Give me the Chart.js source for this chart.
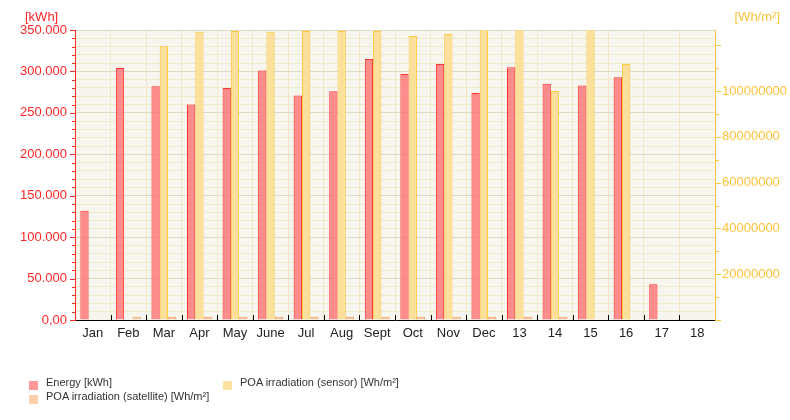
<!DOCTYPE html>
<html>
<head>
<meta charset="utf-8">
<script src="https://cdn.jsdelivr.net/npm/chart.js@4.4.1/dist/chart.umd.min.js"></script>
<style>
body { margin: 0; background: #fff; }
#wrap { position: relative; width: 790px; height: 420px; }
.lg { position: absolute; font: 11px "Liberation Sans", Arial, sans-serif; color: #333; line-height: 13px; white-space: nowrap; }
.box { position: absolute; width: 9px; height: 9px; }
</style>
</head>
<body>
<div id="wrap">
  <canvas id="myChart" width="790" height="420"></canvas>
  <div class="box" style="left:29px;top:381px;background:#ff9898"></div>
  <div class="lg" style="left:46px;top:376px">Energy [kWh]</div>
  <div class="box" style="left:223px;top:381px;background:#fde3a0"></div>
  <div class="lg" style="left:240px;top:376px">POA irradiation (sensor) [Wh/m²]</div>
  <div class="box" style="left:29px;top:395px;background:#fdcfaa"></div>
  <div class="lg" style="left:46px;top:390px">POA irradiation (satellite) [Wh/m²]</div>
</div>
<script>
var categories = ['Jan', 'Feb', 'Mar', 'Apr', 'May', 'June', 'Jul', 'Aug', 'Sept', 'Oct', 'Nov', 'Dec', '13', '14', '15', '16', '17', '18'];
var energy = [132000, 304000, 282000, 260000, 280000, 301000, 271000, 276000, 315000, 297000, 309000, 274000, 305000, 285000, 283000, 293000, 43000, null];
var sensor = [null, null, 119800000, 125900000, 126300000, 125900000, 126300000, 126300000, 126300000, 124100000, 125000000, 135000000, 135000000, 100100000, 135000000, 111900000, null, null];
var satellite = [null, 1400000, 1400000, 1400000, 1400000, 1400000, 1400000, 1400000, 1400000, 1400000, 1400000, 1400000, 1400000, 1400000, null, null, null, null];
var leftTicks = [0, 50000, 100000, 150000, 200000, 250000, 300000, 350000];
var rightTicks = [20000000, 40000000, 60000000, 80000000, 100000000];
var rightMinorTicks = [0, 10000000, 20000000, 30000000, 40000000, 50000000, 60000000, 70000000, 80000000, 90000000, 100000000, 110000000, 120000000];

var FONT = '"Liberation Sans", Arial, sans-serif';
var RED = '#ff2626';
var GOLD = '#ffc23a';

// German style thousands: 350.000
function fmtKwh(v) {
    if (v == 0) {
        return '0,00';
    }
    return String(v).replace(/\B(?=(\d{3})+(?!\d))/g, '.');
}

// background, tick marks and unit titles
var extras = {
    id: 'extras',
    beforeDraw: function(chart) {
        var a = chart.chartArea;
        var ctx = chart.ctx;
        ctx.save();
        ctx.fillStyle = '#f6f6ef';
        ctx.fillRect(a.left, a.top, a.right - a.left, a.bottom - a.top);
        ctx.restore();
    },
    afterDraw: function(chart) {
        var ctx = chart.ctx;
        var yl = chart.scales.y;
        var yr = chart.scales.y2;
        var x = chart.scales.x;
        ctx.save();
        ctx.lineWidth = 1;

        ctx.strokeStyle = RED;
        yl.ticks.forEach(function(t) {
            var py = Math.round(yl.getPixelForValue(t.value)) + 0.5;
            var len = leftTicks.indexOf(t.value) >= 0 ? 5 : 3;
            ctx.beginPath();
            ctx.moveTo(yl.right - len, py);
            ctx.lineTo(yl.right, py);
            ctx.stroke();
        });

        ctx.strokeStyle = GOLD;
        yr.ticks.forEach(function(t) {
            var py = Math.round(yr.getPixelForValue(t.value)) + 0.5;
            var len = (t.value % 20000000 == 0) ? 6 : 4;
            ctx.beginPath();
            ctx.moveTo(yr.left, py);
            ctx.lineTo(yr.left + len, py);
            ctx.stroke();
        });

        ctx.strokeStyle = '#000';
        for (var i = 1; i < categories.length; i++) {
            var px = Math.round((x.getPixelForValue(i - 1) + x.getPixelForValue(i)) / 2) + 0.5;
            ctx.beginPath();
            ctx.moveTo(px, x.top);
            ctx.lineTo(px, x.top - 5);
            ctx.stroke();
        }

        ctx.font = '13px ' + FONT;
        ctx.textBaseline = 'middle';
        ctx.fillStyle = RED;
        ctx.textAlign = 'left';
        ctx.fillText('[kWh]', 25, 17);
        ctx.fillStyle = GOLD;
        ctx.textAlign = 'right';
        ctx.fillText('[Wh/m²]', 780, 17);
        ctx.restore();
    }
};

function createChart() {
    const ctx = document.getElementById('myChart').getContext('2d');
    const myChart = new Chart(ctx, {
        type: 'bar',
        data: {
            labels: categories,
            datasets: [{
                label: 'Energy [kWh]',
                data: energy,
                yAxisID: 'y',
                backgroundColor: 'rgba(255, 115, 115, 0.8)',
                borderColor: '#ff3030',
                borderWidth: 1
            }, {
                label: 'POA irradiation (sensor) [Wh/m²]',
                data: sensor,
                yAxisID: 'y2',
                backgroundColor: '#fbe09b',
                borderColor: '#ffc63e',
                borderWidth: 1
            }, {
                label: 'POA irradiation (satellite) [Wh/m²]',
                data: satellite,
                yAxisID: 'y2',
                backgroundColor: '#fbc9a0',
                borderColor: '#ee9a66',
                borderWidth: 1
            }]
        },
        options: {
            responsive: false,
            animation: false,
            categoryPercentage: 0.7,
            barPercentage: 1.0,
            layout: { padding: { top: 30, left: 0, right: 0, bottom: 0 } },
            plugins: {
                legend: { display: false },
                tooltip: { enabled: false }
            },
            scales: {
                x: {
                    afterFit: function(s) { s.height = 100; },
                    grid: {
                        color: '#f3e7c9',
                        drawTicks: false
                    },
                    border: { color: '#000', width: 1 },
                    ticks: {
                        color: '#222',
                        font: { family: FONT, size: 13 },
                        padding: 6,
                        autoSkip: false,
                        maxRotation: 0
                    }
                },
                y: {
                    position: 'left',
                    min: 0,
                    max: 350000,
                    afterFit: function(s) { s.width = 75; },
                    grid: {
                        drawTicks: false,
                        color: function(c) {
                            return leftTicks.indexOf(c.tick.value) >= 0 ? '#dcdcc4' : '#f2e8cd';
                        }
                    },
                    border: { color: RED, width: 1 },
                    ticks: {
                        stepSize: 10000,
                        autoSkip: false,
                        padding: 8,
                        color: RED,
                        font: { family: FONT, size: 13 },
                        callback: function(v) {
                            return leftTicks.indexOf(v) >= 0 ? fmtKwh(v) : '';
                        }
                    }
                },
                y2: {
                    position: 'right',
                    min: 0,
                    max: 126700000,
                    afterFit: function(s) { s.width = 75; },
                    afterBuildTicks: function(s) {
                        s.ticks = rightMinorTicks.map(function(v) { return { value: v }; });
                    },
                    grid: { drawOnChartArea: false, drawTicks: false },
                    border: { color: GOLD, width: 1 },
                    ticks: {
                        autoSkip: false,
                        padding: 7,
                        color: GOLD,
                        font: { family: FONT, size: 13 },
                        callback: function(v) {
                            return rightTicks.indexOf(v) >= 0 ? String(v) : '';
                        }
                    }
                }
            }
        },
        plugins: [extras]
    });
}

createChart();
</script>
</body>
</html>
